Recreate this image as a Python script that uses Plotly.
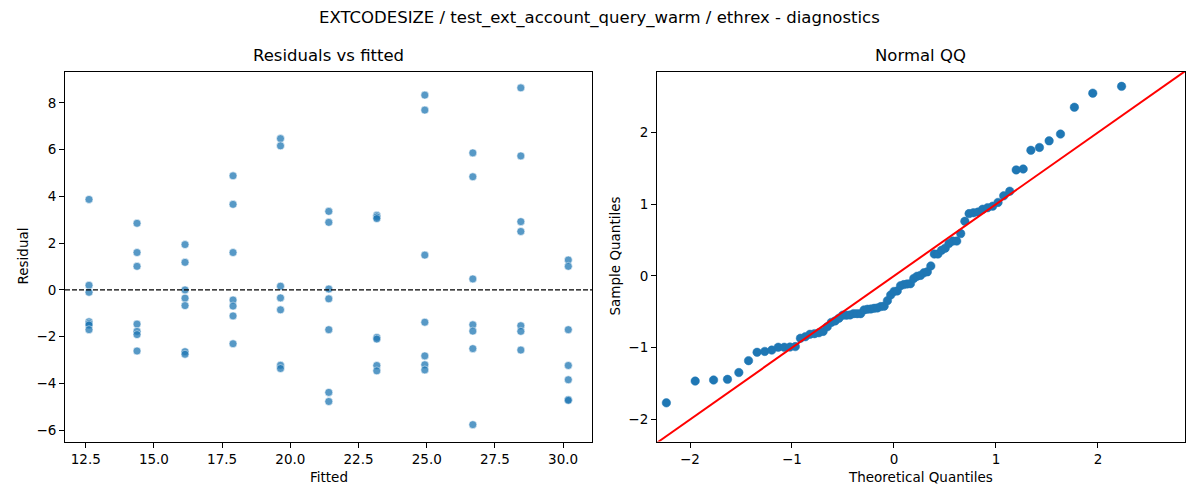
import statistics
import plotly.graph_objects as go

# fitted level of each group (left panel x positions)
fitted_levels = [12.62, 14.38, 16.14, 17.90, 19.64, 21.41, 23.17, 24.93, 26.69, 28.45, 30.19]

# residuals read per fitted level
res_g1 = [3.87, 0.20, -0.10, -1.36, -1.44, -1.50, -1.70]
res_g2 = [2.85, 1.60, 1.01, -1.46, -1.77, -1.91, -2.61]
res_g3 = [1.94, 1.18, 0.00, -0.35, -0.67, -2.64, -2.75]
res_g4 = [4.88, 3.66, 1.60, -0.43, -0.69, -1.11, -2.30]
res_g5 = [6.47, 6.16, 0.16, -0.34, -0.85, -3.22, -3.36]
res_g6 = [3.36, 2.89, 0.04, -0.38, -1.70, -4.38, -4.77]
res_g7 = [3.19, 3.12, 3.05, -2.03, -2.10, -3.23, -3.46]
res_g8 = [8.33, 7.69, 1.49, -1.38, -2.82, -3.20, -3.42]
res_g9 = [5.86, 4.84, 0.47, -1.49, -1.76, -2.51, -5.76]
res_g10 = [8.64, 5.73, 2.92, 2.50, -1.53, -1.77, -2.57]
res_g11 = [1.28, 1.01, -1.70, -3.23, -3.84, -4.69, -4.72]

groups = [res_g1, res_g2, res_g3, res_g4, res_g5, res_g6,
          res_g7, res_g8, res_g9, res_g10, res_g11]

fitted = []
residual = []
for lvl, g in zip(fitted_levels, groups):
    fitted += [lvl] * len(g)
    residual += g

# normal QQ of the standardized residuals
n = len(residual)
mu = statistics.mean(residual)
sd = statistics.pstdev(residual)
sample_q = sorted((r - mu) / sd for r in residual)
theo_q = [statistics.NormalDist().inv_cdf(i / (n + 1)) for i in range(1, n + 1)]

BLUE = "#1f77b4"
FONT = "DejaVu Sans"

fig = go.Figure()

fig.add_trace(go.Scatter(
    x=fitted, y=residual, mode="markers", xaxis="x", yaxis="y",
    marker=dict(size=8, color=BLUE, opacity=0.75, line=dict(color="white", width=0.6)),
    showlegend=False))

fig.add_trace(go.Scatter(
    x=theo_q, y=sample_q, mode="markers", xaxis="x2", yaxis="y2",
    marker=dict(size=8.5, color=BLUE, line=dict(color=BLUE, width=0.5)),
    showlegend=False))

fig.add_trace(go.Scatter(
    x=[-2.324, 2.853], y=[-2.324, 2.853], mode="lines", xaxis="x2", yaxis="y2",
    line=dict(color="red", width=2), showlegend=False))

axis_common = dict(showline=True, linecolor="black", linewidth=1, mirror=True,
                   ticks="outside", ticklen=5, tickwidth=1, tickcolor="black",
                   showgrid=False, zeroline=False,
                   tickfont=dict(family=FONT, size=13.5, color="black"))


def label(text, x, y, size=13.5, angle=0):
    return dict(text=text, x=x, y=y, xref="paper", yref="paper",
                xanchor="center", yanchor="middle", showarrow=False,
                textangle=angle, font=dict(size=size))


fig.update_layout(
    width=1200, height=500,
    margin=dict(l=0, r=0, t=0, b=0),
    plot_bgcolor="white", paper_bgcolor="white",
    font=dict(family=FONT, color="black"),
    xaxis=dict(domain=[0.0475, 0.4867], range=[11.74, 31.06],
               tickvals=[12.5, 15, 17.5, 20, 22.5, 25, 27.5, 30],
               ticktext=["12.5", "15.0", "17.5", "20.0", "22.5", "25.0", "27.5", "30.0"],
               anchor="y", **axis_common),
    yaxis=dict(domain=[0.133, 0.873], range=[-6.48, 9.34], dtick=2,
               anchor="x", **axis_common),
    xaxis2=dict(domain=[0.5408, 0.9808], range=[-2.324, 2.853], dtick=1,
                anchor="y2", **axis_common),
    yaxis2=dict(domain=[0.133, 0.873], range=[-2.307, 2.85], dtick=1,
                anchor="x2", **axis_common),
    shapes=[dict(type="line", xref="x domain", yref="y", x0=0, x1=1, y0=0, y1=0,
                 line=dict(color="black", width=1.2, dash="5px,2px"))],
    annotations=[
        label("EXTCODESIZE / test_ext_account_query_warm / ethrex - diagnostics",
              0.4933, 0.98, size=16.5),
        label("Residuals vs fitted", 0.2671, 0.904, size=16.5),
        label("Normal QQ", 0.7608, 0.904, size=16.5),
        label("Fitted", 0.2671, 0.062),
        label("Theoretical Quantiles", 0.7608, 0.062),
        label("Residual", 0.0117, 0.503, angle=-90),
        label("Sample Quantiles", 0.505, 0.503, angle=-90),
    ],
)

fig.write_html("out.html")
